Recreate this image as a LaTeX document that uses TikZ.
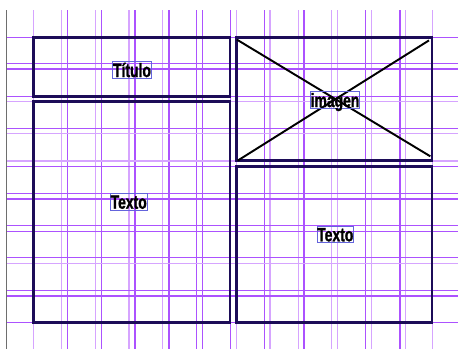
\documentclass[tikz,border=0pt]{standalone}
\usepackage{fontspec}
\newfontfamily\tagfont[FakeStretch=0.72, BoldFeatures={FakeBold=1.2}]{Liberation Sans}
\usepackage{tikz}
\usetikzlibrary{calc, fit}
\definecolor{panelblue}{RGB}{28,12,88}
\definecolor{gridstrong}{RGB}{172,82,255}
\definecolor{gridsoft}{RGB}{214,164,255}
\definecolor{tagblue}{RGB}{100,100,220}
\definecolor{guidegray}{RGB}{110,110,110}
\tikzset{
  panel/.style={draw=panelblue, line width=1.5pt, inner sep=0pt},
  tag/.style={draw=tagblue, line width=0.45pt, inner sep=0.1pt, text height=8.6pt, text depth=0.6pt,
    font=\tagfont\bfseries\fontsize{11}{11}\selectfont},
  cross/.style={line width=1.1pt, black},
  gridline/.style={line width=0.65pt},
  guide/.style={line width=0.6pt, guidegray}
}

\begin{document}
\begin{tikzpicture}[x=0.02cm, y=-0.02cm]
    \useasboundingbox (0,0) rectangle (458,349);
    % layout grid
    \draw[guide] (6.7,10) -- (6.7,349);
    \foreach \x/\c in {33.3/gridsoft, 61.7/gridsoft, 67.3/gridstrong, 95.7/gridsoft, 101.7/gridstrong,
        129/gridsoft, 135/gridstrong, 162.7/gridsoft, 169/gridstrong, 196.7/gridstrong, 202.3/gridstrong,
        230.5/gridstrong, 236.7/gridsoft, 264.3/gridstrong, 270/gridsoft, 298.3/gridsoft, 304/gridstrong,
        331.7/gridsoft, 337.3/gridsoft, 365.7/gridstrong, 371.7/gridsoft, 400/gridstrong, 405.7/gridsoft,
        432.7/gridsoft}
      \draw[gridline, \c] (\x,10) -- (\x,349);
    \foreach \y/\c in {37.7/gridstrong, 63.3/gridstrong, 69/gridstrong, 96.7/gridstrong, 101.7/gridsoft,
        128.3/gridstrong, 133.3/gridsoft, 161/gridsoft, 166.7/gridstrong, 193.3/gridstrong, 199/gridstrong,
        225.7/gridstrong, 231.7/gridstrong, 257.7/gridstrong, 263.3/gridsoft, 290.7/gridstrong,
        296/gridstrong, 322.3/gridstrong}
      \draw[gridline, \c] (7,\y) -- (458,\y);
    % panels
    \node[panel, fit={(33.3,37.7) (230,96.5)}] (titulo) {};
    \node[panel, fit={(33.3,101.7) (230,322.3)}] (textoA) {};
    \node[panel, fit={(236.7,37.7) (432,160.5)}] (imagen) {};
    \node[panel, fit={(236.7,166.7) (432,322.3)}] (textoB) {};
    \draw[cross] ($(imagen.north west)+(1.6,3.3)$) -- ($(imagen.south east)+(-3,-5.5)$);
    \draw[cross] ($(imagen.north east)+(-4.3,4)$) -- ($(imagen.south west)+(2.3,-1.2)$);
    % labels
    \node[tag] (tituloTag) at (132,70) {Título};
    \node[tag] (imagenTag) at (335,100) {imagen};
    \node[tag] (textoATag) at (128.7,201.7) {Texto};
    \node[tag] (textoBTag) at (335.3,234.3) {Texto};
\end{tikzpicture}
\end{document}
